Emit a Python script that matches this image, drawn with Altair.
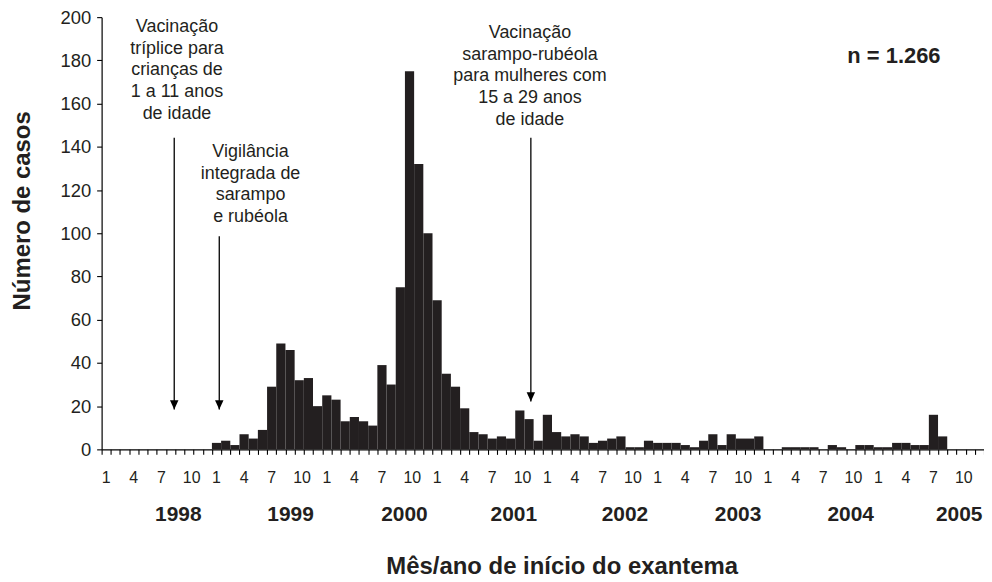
import altair as alt
import pandas as pd

# ---- data ----
years = [1998, 1999, 2000, 2001, 2002, 2003, 2004, 2005]
cases_1998 = [0, 0, 0, 0, 0, 0, 0, 0, 0, 0, 0, 0]
cases_1999 = [3, 4, 2, 7, 5, 9, 29, 49, 46, 32, 33, 20]
cases_2000 = [25, 23, 13, 15, 13, 11, 39, 30, 75, 175, 132, 100]
cases_2001 = [69, 35, 29, 19, 8, 7, 5, 6, 5, 18, 14, 4]
cases_2002 = [16, 8, 6, 7, 6, 3, 4, 5, 6, 1, 1, 4]
cases_2003 = [3, 3, 3, 2, 1, 4, 7, 2, 7, 5, 5, 6]
cases_2004 = [0, 0, 1, 1, 1, 1, 0, 2, 1, 0, 2, 2]
cases_2005 = [1, 1, 3, 3, 2, 2, 16, 6, 0, 0, 0, 0]
labelled_months = [1, 4, 7, 10]
y_ticks = [0, 20, 40, 60, 80, 100, 120, 140, 160, 180, 200]
# where the year labels sit on the month axis (month units from Jan 1998)
year_label_pos = [8.34, 20.55, 32.94, 44.84, 56.94, 69.24, 81.49, 93.3]

annotation_texts = [
    "Vacinação\ntríplice para\ncrianças de\n1 a 11 anos\nde idade",
    "Vigilância\nintegrada de\nsarampo\ne rubéola",
    "Vacinação\nsarampo-rubéola\npara mulheres com\n15 a 29 anos\nde idade",
]
annotation_x = [8.2, 16.2, 46.6]        # in month units
annotation_y = [193.0, 135.2, 190.3]    # in case units (first line baseline)
arrow_x = [7.9, 12.8, 46.7]
arrow_top = [144.2, 98.6, 144.2]
arrow_tip = [18.4, 18.4, 22.1]
n_label = "n = 1.266"

INK = "#231f20"
FONT = "Liberation Sans"

# ---- tables ----
all_cases = [cases_1998, cases_1999, cases_2000, cases_2001,
             cases_2002, cases_2003, cases_2004, cases_2005]
rows = []
for yi, (yr, vals) in enumerate(zip(years, all_cases)):
    for m, v in enumerate(vals):
        idx = yi * 12 + m
        rows.append({"x": idx, "x2": idx + 1, "y": v, "y2": 0})
bars_df = pd.DataFrame(rows)

mlab = []
for yi, yr in enumerate(years):
    for m in labelled_months:
        shift = 0.3 if m >= 10 else 0.0
        mlab.append({"x": yi * 12 + (m - 1) + 0.5 + shift, "label": str(m)})
mlab_df = pd.DataFrame(mlab)

ylab_df = pd.DataFrame({"x": year_label_pos, "label": [str(y) for y in years]})

ann_df = pd.DataFrame({"x": annotation_x, "y": annotation_y, "text": annotation_texts})
arr_df = pd.DataFrame({"x": arrow_x, "y": arrow_top, "y2": arrow_tip})
head_df = pd.DataFrame({"x": arrow_x, "y": arrow_tip})
n_df = pd.DataFrame({"x": [86.2], "y": [178.8], "text": [n_label]})

W, H = 886, 434
xscale = alt.Scale(domain=[0, 96], nice=False, zero=False)
yscale = alt.Scale(domain=[0, 200], nice=False)

xaxis = alt.Axis(values=list(range(0, 97)), labels=False, tickSize=5,
                 tickColor="black", domainColor="black", domainWidth=1.2,
                 tickWidth=1.1, grid=False,
                 title="Mês/ano de início do exantema",
                 titleFontSize=24, titleFontWeight="bold", titleFont=FONT,
                 titleColor=INK, titleX=462, titleY=125,
                 titleBaseline="alphabetic", titleAlign="center")
yaxis = alt.Axis(values=y_ticks, tickSize=5, tickColor="black",
                 domainColor="black", domainWidth=1.2, tickWidth=1.1,
                 grid=False, labelFontSize=18.5, labelFont=FONT,
                 labelColor=INK, labelPadding=6,
                 title="Número de casos", titleFontSize=24,
                 titleFontWeight="bold", titleFont=FONT, titleColor=INK,
                 titleX=-79.5, titleY=194, titleBaseline="middle",
                 titleAlign="center", titleAngle=270)


def X(field="x"):
    return alt.X(f"{field}:Q", scale=xscale, axis=xaxis)


def Y(field="y"):
    return alt.Y(f"{field}:Q", scale=yscale, axis=yaxis)


bars = alt.Chart(bars_df).mark_rect(color=INK).encode(
    x=X(), x2="x2:Q", y=Y(), y2="y2:Q")

month_text = alt.Chart(mlab_df).mark_text(
    fontSize=16, font=FONT, color=INK, baseline="alphabetic", align="center"
).encode(x=X(), y=alt.value(468), text="label:N")

year_text = alt.Chart(ylab_df).mark_text(
    fontSize=21, font=FONT, fontWeight="bold", color=INK, baseline="alphabetic",
    align="center"
).encode(x=X(), y=alt.value(506), text="label:N")

ann = alt.Chart(ann_df).mark_text(
    fontSize=18, font=FONT, color=INK, baseline="alphabetic", align="center",
    lineBreak="\n", lineHeight=21.7
).encode(x=X(), y=Y(), text="text:N")

arrows = alt.Chart(arr_df).mark_rule(color="black", strokeWidth=1.3).encode(
    x=X(), y=Y(), y2="y2:Q")

heads = alt.Chart(head_df).mark_point(
    shape="M-1,-2.2L1,-2.2L0,0Z", size=72, filled=True, color="black", opacity=1,
    strokeWidth=0
).encode(x=X(), y=Y())

ntext = alt.Chart(n_df).mark_text(
    fontSize=22, font=FONT, fontWeight="bold", color=INK, baseline="alphabetic",
    align="center"
).encode(x=X(), y=Y(), text="text:N")

chart = alt.layer(bars, month_text, year_text, ann, arrows, heads, ntext).properties(
    width=W, height=H,
    autosize=alt.AutoSizeParams(type="none"),
    padding={"left": 94, "top": 8, "right": 0, "bottom": 132},
    background="white",
).configure_view(stroke=None)

chart.save("out.html", embed_options={"renderer": "svg", "actions": False})
